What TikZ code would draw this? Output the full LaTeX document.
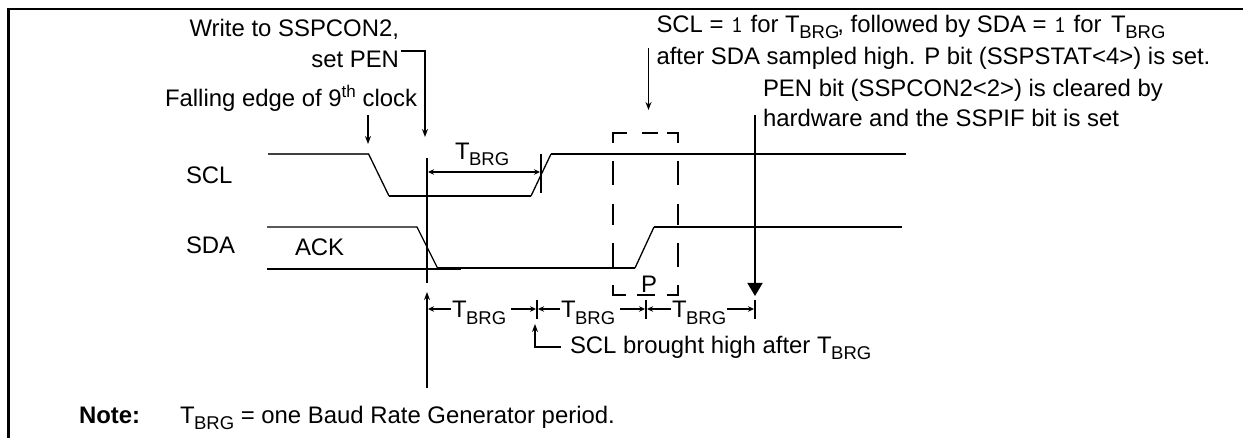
\documentclass[tikz,border=0pt]{standalone}
\usepackage{fontspec}
\setmainfont{Liberation Sans}
\usetikzlibrary{arrows.meta}
\newcommand{\tbrg}{T\kern-0.5pt\raisebox{-6pt}{\fontsize{18.5}{18}\selectfont BRG}}
\newcommand{\mone}{\makebox[13.8pt][c]{\ttfamily\fontsize{24}{24}\selectfont 1}}
\tikzset{
  x=1pt,y=-1pt,
  wave/.style={line width=1.8pt},
  thinwave/.style={line width=1.3pt},
  lead/.style={line width=1.5pt},
  tip/.style={-{Stealth[length=8pt,width=6pt]},line width=1.5pt},
  dim/.style={{Stealth[length=6pt,width=5.5pt]}-,line width=1.5pt},
  dimr/.style={-{Stealth[length=6pt,width=5.5pt]},line width=1.5pt},
  dimb/.style={{Stealth[length=6pt,width=5.5pt]}-{Stealth[length=6pt,width=5.5pt]},line width=1.5pt},
  txt/.style={inner sep=0pt,outer sep=0pt,anchor=base west,font=\fontsize{23.9}{24}\selectfont},
  txtr/.style={txt,anchor=base east},
  dashseg/.style={line width=1.7pt},
}
\begin{document}
\begin{tikzpicture}
\useasboundingbox (0,0) rectangle (1253,438);
% frame
\draw[line width=2.2pt] (8.5,438) -- (8.5,9) -- (1243,9);
% texts
\node[txtr] (w1) at (399,37) {Write to SSPCON2,};
\node[txtr] (w2) at (399,68) {set PEN};
\node[txtr] (w3) at (417,107) {Falling edge of 9\raisebox{9pt}{\fontsize{17}{17}\selectfont th} clock};
\node[txt] (scll) at (186,184) {SCL};
\node[txt] (sdal) at (186,254) {SDA};
\node[txt] (ack) at (295,256) {ACK};
\node[txt] (t0) at (455,160) {\tbrg};
\node[txt] (t1) at (452,318) {\tbrg};
\node[txt] (t2) at (561,318) {\tbrg};
\node[txt] (t3) at (672,318) {\tbrg};
\node[txt] (pp) at (641,293) {P};
\node[txt] (sbh) at (570,353) {SCL brought high after \tbrg};
\node[txt] (a1) at (656.5,33) {SCL = \mone{} for \tbrg\kern-2pt, followed by SDA = \mone{} for\kern3pt{} \tbrg};
\node[txt] (a2) at (656.5,65) {after SDA sampled high. P bit (SSPSTAT<4>) is set.};
\node[txt] (a3) at (763,97) {PEN bit (SSPCON2<2>) is cleared by};
\node[txt] (a4) at (763,127) {hardware and the SSPIF bit is set};
\node[txt,font=\fontsize{23.9}{24}\selectfont\bfseries] (note) at (79,423) {Note:};
\node[txt] (nt) at (180,423) {\tbrg{} = one Baud Rate Generator period.};
% named points
\coordinate (wa) at (425,51);
\coordinate (wb) at (425,137);
\coordinate (fa) at (368,115);
\coordinate (fb) at (368,144);
\coordinate (va) at (427,158);
\coordinate (vb) at (427,283);
\coordinate (ua) at (427,388);
\coordinate (ub) at (427,292);
% SCL
\draw[line width=1.4pt,black!75] (268,154) -- (368.6,154);
\draw[thinwave] (368.6,154) -- (389,196);
\draw[wave] (389,196) -- (531,196);
\draw[thinwave] (531,196) -- (551,154);
\draw[wave] (551,154) -- (906,154);
% SDA
\draw[thinwave] (267,227) -- (417,227) -- (437.5,268);
\draw[wave] (267,269) -- (461,269);
\draw[wave] (437.5,268) -- (635,268);
\draw[thinwave] (635,268) -- (654,227);
\draw[wave] (654,227) -- (902,227);
% leaders
\draw[lead] (va) -- (vb);
\draw[tip] (ua) -- (ub);
\draw[tip] (401,51) -- (wa) -- (wb);
\draw[tip] (fa) -- (fb);
\draw[lead] (541,154) -- (541,193);
\draw[dimb] (428,172) -- (540,172);
% top-right leaders
\draw[tip] (648.5,48) -- (648.5,110);
\draw[-{Triangle[length=13pt,width=15pt]},line width=1.7pt] (755,115) -- (755,296);
% dashed box
\foreach \xx in {613,678}{
  \foreach \ya/\yb in {133/143,161/185,204/225,243/267,285/295}{
    \draw[dashseg] (\xx,\ya) -- (\xx,\yb);
  }
}
\draw[dashseg] (612.2,133) -- (627,133) (642,133) -- (658,133) (667,133) -- (678.8,133);
\draw[dashseg] (612.2,295) -- (626,295) (637,295) -- (655,295) (667,295) -- (678.8,295);
% dimension line
\draw[lead] (537,300) -- (537,319);
\draw[lead] (646,300) -- (646,319);
\draw[lead] (755,300) -- (755,319);
\draw[dim] (428,309) -- (451,309);
\draw[dimr] (511,309) -- (536,309);
\draw[dim] (538,309) -- (560,309);
\draw[dimr] (620,309) -- (645,309);
\draw[dim] (647,309) -- (671,309);
\draw[dimr] (727,309) -- (754,309);
% L arrow
\draw[tip] (561,347) -- (535,347) -- (535,324);
\end{tikzpicture}
\end{document}
